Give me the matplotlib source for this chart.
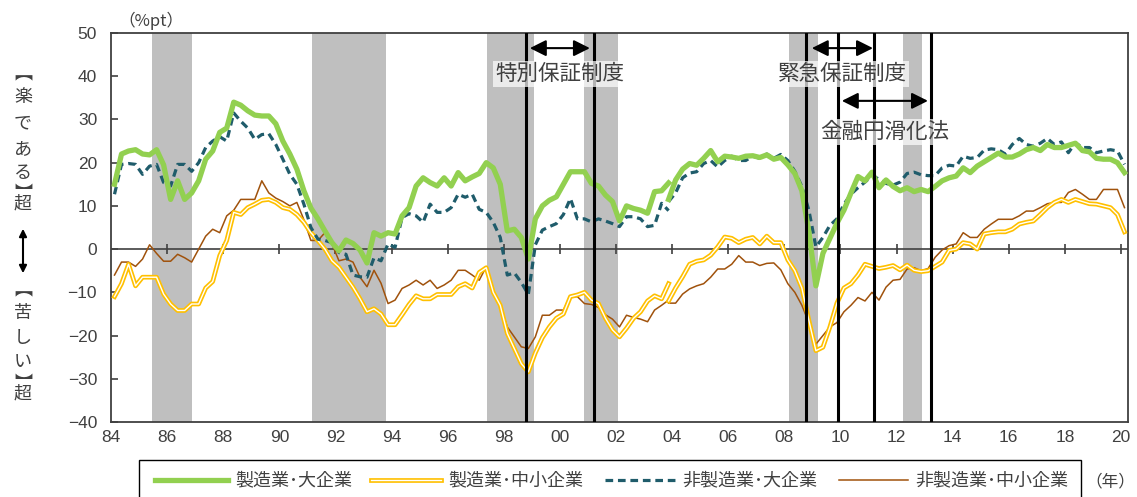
import numpy as np
import pandas as pd
import matplotlib
matplotlib.use('Agg')
import matplotlib.pyplot as plt
from matplotlib.lines import Line2D
from matplotlib.patches import Rectangle, FancyArrowPatch
from matplotlib.textpath import TextPath
from matplotlib.font_manager import FontProperties
from matplotlib.transforms import ScaledTranslation

plt.rcParams['font.family'] = ['Liberation Sans', 'Noto Sans CJK JP']
JP = ['Noto Sans CJK JP', 'DejaVu Sans']

# quarterly DI (%pt), old basis 84Q1-03Q4, new basis 03Q4-20Q1
q_old = pd.period_range('1984Q1', '2003Q4', freq='Q')
q_new = pd.period_range('2003Q4', '2020Q1', freq='Q')

mfg_large_old = [15, 22, 22.7, 23, 22, 21.8, 23, 19.5, 11.5, 15.8,
                 11.5, 13, 15.8, 20.8, 22.7, 27, 28, 34, 33.3, 32,
                 31, 30.8, 30.8, 29, 25, 22, 18.5, 13.5, 9.5, 7,
                 4.2, 1.5, -0.4, 2.1, 1.3, -0.2, -3.2, 3.8, 3, 3.8,
                 3.5, 7.7, 9.6, 14.6, 16.5, 15.4, 14.6, 16.5, 14.6, 17.7,
                 15.8, 16.7, 17.5, 20, 18.8, 15, 4.2, 4.6, 2.7, -2.3,
                 7, 10, 11.3, 12.1, 15, 17.9, 17.9, 17.9, 15.2, 14.6,
                 12.5, 11, 6.5, 10, 9.4, 9, 8.3, 13.3, 13.5, 15.3]
mfg_large_new = [11.5, 16, 18.5, 19.8, 19.4, 21, 22.8, 20.2, 21.5, 21.3,
                 21, 21.5, 21.6, 21.2, 21.8, 20.8, 21.2, 19.5, 17.5, 13.5,
                 4, -8.5, -1, 2.5, 6, 9, 13, 16.8, 15.8, 17.8,
                 14.2, 16, 14.5, 13.5, 14.2, 13.3, 13.8, 13.3, 14.5, 15.8,
                 16.5, 16.9, 18.8, 17.7, 19.2, 20.2, 21.2, 22.2, 21.3, 21.3,
                 22, 23, 23.5, 22.8, 24.2, 23.5, 23.5, 24, 24.5, 22.8,
                 22.5, 21, 20.8, 20.8, 20, 17.7]

mfg_small_old = [-11, -8, -3.5, -8.5, -6.5, -6.5, -6.5, -10.4, -12.7, -14.2,
                 -14.2, -12.7, -12.7, -9, -7.5, -1.5, 2, 8.5, 8, 9.6,
                 10.4, 11.3, 11.5, 10.8, 9.6, 9.2, 8, 6.2, 3.8, 2,
                 0, -2.7, -4.2, -6.5, -8.8, -11.5, -14.5, -13.8, -15, -17.5,
                 -17.5, -15.2, -12.8, -10.8, -11.5, -11.5, -10.5, -10.5, -10.5, -8.7,
                 -8, -9, -5.4, -4.3, -10, -13, -19.5, -23, -26.5, -28.4,
                 -24, -20.5, -18, -16, -15, -11, -10.6, -10, -11.8, -12.6,
                 -16, -18.7, -20.3, -18.3, -16, -14.5, -12, -10.8, -11.5, -8]
mfg_small_new = [-12, -9, -6.4, -3.5, -2.8, -2.5, -1.4, 0.5, 2.8, 2.5,
                 1.5, 2.3, 2.7, 1.2, 3, 1.5, 1.5, -2.5, -5, -9,
                 -16.5, -23.5, -22.7, -18, -12.5, -9, -8, -6, -3.5, -4,
                 -4.5, -4.2, -3.8, -4.8, -3.7, -4.9, -5.2, -5, -4, -3,
                 -0.3, 0, 1.5, 1.2, 0, 3.5, 3.8, 4, 4, 4.6,
                 5.8, 6.2, 6.5, 8, 9.6, 10.8, 11.5, 10.8, 11.5, 11,
                 10.5, 10.4, 10, 9.6, 8, 4]

nonmfg_large_old = [12.7, 19.6, 19.8, 19.6, 17.3, 19.2, 19.6, 15.4, 14.6, 19.6,
                    19.6, 18, 20, 23.5, 25, 26, 25, 31.5, 29.6, 28,
                    25.4, 26.5, 26.7, 24.2, 20.8, 17.3, 15, 10.4, 5, 2.3,
                    2, 1.5, -0.8, -1.2, -6, -6.4, -6.5, -2, -2.7, 1.2,
                    0.4, 7.3, 8.2, 7.7, 6.2, 10.4, 8.5, 8.5, 9.6, 12.7,
                    12, 12.7, 9.2, 8.5, 6.2, 2.7, -6, -5.5, -7.7, -10.5,
                    1, 4.4, 5.2, 5.9, 8, 11.7, 7, 7, 6.3, 7,
                    6.5, 5.9, 5.2, 7.5, 7.5, 7, 5.2, 5.5, 10.6, 8.9]
nonmfg_large_new = [11, 13, 16.5, 17.6, 17.9, 19.8, 20.5, 19, 20.5, 21.5,
                    20.5, 20.5, 21.5, 21, 22, 21, 21.9, 20.5, 18, 14.5,
                    9, 0.5, 2.7, 5.5, 7, 10.4, 12.7, 14.2, 15.5, 17,
                    16.2, 15.2, 14.8, 15.5, 17.5, 17.8, 17.2, 17, 17, 18.8,
                    19.4, 19.2, 21.5, 21, 21.2, 22.9, 23.2, 23, 22, 24.2,
                    25.6, 24.2, 23.8, 24.5, 25.6, 24.2, 24.8, 22.3, 24.6, 23.5,
                    23.5, 22.3, 22.7, 23, 22.7, 19.6]

nonmfg_small_old = [-6, -3, -3, -4, -2.3, 1, -1, -2.8, -2.8, -1.2,
                    -2, -3, 0, 3, 4.6, 3.8, 7.7, 9, 11.5, 11.5,
                    11.5, 15.8, 13, 11.8, 11, 10, 10.8, 6.8, 2, 2,
                    3.8, 1.2, -2.7, -2.3, -3, -6.5, -8.7, -4.9, -7.9, -12.6,
                    -11.8, -9.1, -8.3, -7.2, -8.3, -7.2, -9.1, -8.3, -7.2, -4.9,
                    -4.9, -6, -7.2, -4.1, -9.5, -13, -18, -20.3, -22.6, -23,
                    -20.3, -15.3, -15.3, -14.1, -14.1, -11, -11, -12.6, -12.8, -13.5,
                    -15.2, -16.2, -18, -15.3, -15.8, -16.2, -16.8, -14.1, -13, -11.8]
nonmfg_small_new = [-12.5, -12.5, -10.4, -9.2, -8.5, -8, -6.5, -4.6, -4.6, -3.5,
                    -1.5, -3, -3, -3.8, -3.3, -3.2, -4.8, -8, -10, -13,
                    -17, -22, -20, -18, -17, -14.5, -13, -11.2, -12, -10,
                    -11.8, -8.8, -7.2, -7, -4.6, -4.3, -5, -4.5, -1.9, -0.2,
                    0.8, 1.2, 3.8, 2.7, 2.7, 4.6, 5.8, 6.9, 6.9, 6.9,
                    7.7, 8.8, 8.8, 9.6, 10.5, 10.8, 10.8, 13.1, 13.8, 12.7,
                    11.5, 11.5, 13.8, 13.8, 13.8, 9.6]

labels = ['製造業･大企業', '製造業･中小企業', '非製造業･大企業', '非製造業･中小企業']

# recessions (shaded) and policy dates (black lines), in years
recessions = [(1985.46, 1986.89), (1991.16, 1993.80), (1997.40, 1999.08),
              (2000.86, 2002.07), (2008.16, 2009.20), (2012.22, 2012.90)]
policy_lines = [1998.79, 2001.21, 2008.77, 2009.91, 2011.19, 2013.22]
policies = [('特別保証制度', 1998.93, 2001.07, 46.5, 40.5),
            ('緊急保証制度', 2008.98, 2011.16, 46.5, 40.5),
            ('金融円滑化法', 2010.05, 2013.12, 34.3, 27.1)]


def qx(q):
    return np.asarray(q.year) + (np.asarray(q.quarter) - 0.5) / 4


x_old, x_new = qx(q_old), qx(q_new)

W, H = 1137, 497
fig = plt.figure(figsize=(W / 100, H / 100), dpi=100)
ax = fig.add_axes([111 / W, 1 - 422 / H, 1017 / W, 389 / H])

GRAY = '#404040'
for a, b in recessions:
    ax.axvspan(a, b, color='#bfbfbf', lw=0, zorder=0)
ax.axhline(0, color=GRAY, lw=1.2, zorder=1)
even_years = np.arange(1986, 2021, 2)
ax.plot(even_years, np.zeros(len(even_years)), ls='none', marker='|', ms=7,
        mew=1.2, color=GRAY, zorder=1)

for xs, ys in [(x_old, nonmfg_small_old), (x_new, nonmfg_small_new)]:
    ax.plot(xs, ys, color='#a0520c', lw=1.1, zorder=2)
for xs, ys in [(x_old, mfg_small_old), (x_new, mfg_small_new)]:
    ax.plot(xs, ys, color='#ffc000', lw=3.4, zorder=3)
    ax.plot(xs, ys, color='white', lw=1.0, zorder=3)
for xs, ys in [(x_old, nonmfg_large_old), (x_new, nonmfg_large_new)]:
    ax.plot(xs, ys, color='#1f5c6b', lw=2.3, ls=(0, (2.4, 1.5)), zorder=4)
for xs, ys in [(x_old, mfg_large_old), (x_new, mfg_large_new)]:
    ax.plot(xs, ys, color='#92d050', lw=3.8, zorder=5)

for xv in policy_lines:
    ax.axvline(xv, color='black', lw=2.2, zorder=6)

for name, x0, x1, ya, yt in policies:
    ax.annotate('', xy=(x1, ya), xytext=(x0, ya),
                arrowprops=dict(arrowstyle='<|-|>,head_length=0.7,head_width=0.35',
                                color='black', lw=1.5, mutation_scale=14,
                                shrinkA=0, shrinkB=0), zorder=7)
    ax.text((x0 + x1) / 2, yt, name, ha='center', va='center', fontsize=15.5,
            family=JP, color=GRAY, zorder=8,
            bbox=dict(facecolor='white', alpha=0.7, edgecolor='none', pad=1.5))

ax.set_xlim(1984, 2020.25)
ax.set_ylim(-40, 50)
ax.set_yticks(np.arange(-40, 51, 10))
ax.set_xticks(np.arange(1984, 2021, 2))
ax.set_xticklabels([f'{y % 100:02d}' for y in range(1984, 2021, 2)])
ax.tick_params(axis='x', length=0, pad=6, labelsize=12.5, labelcolor=GRAY)
ax.tick_params(axis='y', direction='in', length=5, width=1.2, color=GRAY,
               pad=10, labelsize=12.5, labelcolor=GRAY)
for s in ax.spines.values():
    s.set_color(GRAY)
    s.set_linewidth(1.3)


def fx(px):
    return px / W


def fy(py):
    return 1 - py / H


# vertical axis caption; vertical-form brackets placed by their ink centre
CAP = 13
jp_prop = FontProperties(family='Noto Sans CJK JP', size=CAP)
for ch, py in [('︻', 78), ('楽', 97), ('で', 123), ('あ', 149), ('る', 173),
               ('︼', 186), ('超', 204), ('︻', 294), ('苦', 313), ('し', 338),
               ('い', 362), ('︼', 376), ('超', 394)]:
    if ch in '︻︼':
        ext = TextPath((0, 0), ch, size=CAP, prop=jp_prop).get_extents()
        cx, cy = (ext.x0 + ext.x1) / 2, (ext.y0 + ext.y1) / 2
        tr = fig.transFigure + ScaledTranslation(-cx / 72, -cy / 72, fig.dpi_scale_trans)
        fig.text(fx(23), fy(py), ch, ha='left', va='baseline', fontsize=CAP,
                 family=JP, color=GRAY, transform=tr)
    else:
        fig.text(fx(23), fy(py), ch, ha='center', va='center', fontsize=CAP,
                 family=JP, color=GRAY)
fig.add_artist(FancyArrowPatch((fx(23), fy(226)), (fx(23), fy(276)),
                               transform=fig.transFigure, arrowstyle='<|-|>',
                               mutation_scale=11, lw=1.5, color='black'))
fig.text(fx(151), fy(21), '（%pt）', ha='center', va='center', fontsize=12,
         family=JP, color=GRAY)
fig.text(fx(1110), fy(482), '（年）', ha='center', va='center', fontsize=12,
         family=JP, color=GRAY)

# legend
fig.add_artist(Rectangle((fx(139), fy(520)), fx(1081) - fx(139), fy(460) - fy(520),
                         transform=fig.transFigure, fill=False, ec='black', lw=1.0))
handles = [dict(color='#92d050', lw=3.8), dict(color='#ffc000', lw=3.4),
           dict(color='#1f5c6b', lw=2.3, ls=(0, (2.4, 1.5))),
           dict(color='#a0520c', lw=1.1)]
spans = [(155, 228), (371, 441), (605, 675), (839, 908)]
yl = fy(480)
for lab, st, (a, b) in zip(labels, handles, spans):
    fig.add_artist(Line2D([fx(a), fx(b)], [yl, yl], transform=fig.transFigure, **st))
    if st['color'] == '#ffc000':
        fig.add_artist(Line2D([fx(a), fx(b)], [yl, yl], transform=fig.transFigure,
                              color='white', lw=1.0))
    fig.text(fx(b + 7), yl, lab, ha='left', va='center', fontsize=13,
             family=JP, color=GRAY)

fig.savefig('out.png', dpi=100)
